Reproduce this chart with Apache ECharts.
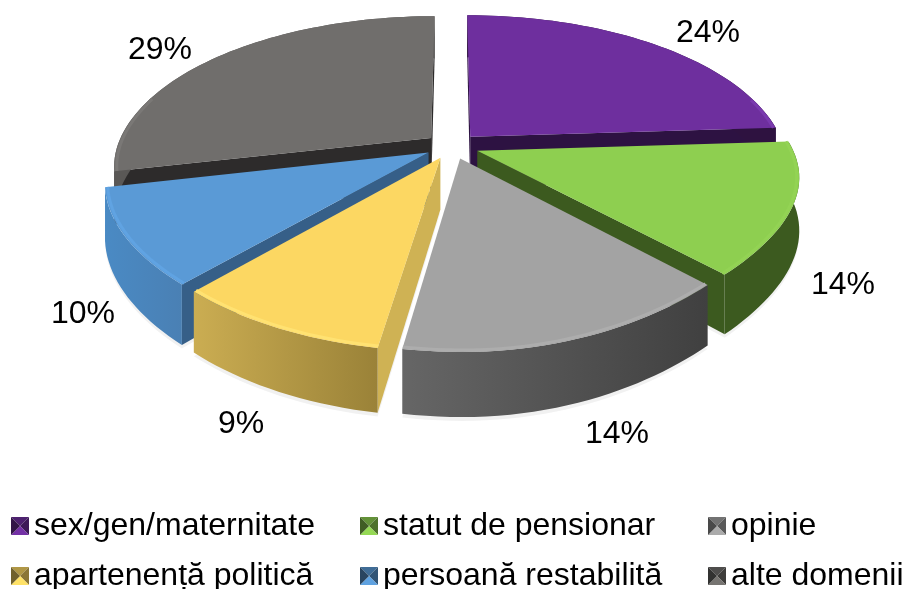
<!DOCTYPE html>
<html>
<head>
<meta charset="utf-8">
<style>
html,body{margin:0;padding:0;background:#fff;overflow:hidden}
#chart{width:905px;height:589px}
</style>
<script src="https://cdn.jsdelivr.net/npm/echarts@6/dist/echarts.min.js"></script>
</head>
<body>
<div id="chart"></div>
<script>
var categories = ['sex/gen/maternitate', 'statut de pensionar', 'opinie', 'apartenență politică', 'persoană restabilită', 'alte domenii'];
// etichetele arata valorile rotunjite, felii estimate din imagine
var values = [24, 14, 14.4, 9.1, 10, 28.5];

// culori: fata de sus, margine, perete, fata taiata
var topColors = ['#6E2F9E', '#8ECF50', '#A3A3A3', '#FCD762', '#5A9AD6', '#706E6C'];
var rimColors = ['#7A3AAE', '#93D354', '#ADADAD', '#FFE272', '#60A3E2', '#7A7876'];
var wallLeft = ['#2E1240', '#3C5A1F', '#666666', '#CBAD52', '#4A8AC4', '#5A5856'];
var wallRight = ['#2E1240', '#3C5A1F', '#404040', '#9A8238', '#4A80B4', '#5A5856'];
var cutColors = ['#2D1242', '#3C5A1F', '#4A4A4A', '#CFB254', '#365F88', '#2D2B2B'];
var paintOrder = [5, 0, 1, 4, 3, 2];
var labelSpots = [[708, 33], [843, 285], [617, 434], [241, 424], [83, 314], [160, 50]];
var legendSpots = [[11, 510], [360, 510], [708, 510], [11, 560], [360, 560], [708, 560]];

var cx = 452, cy = 146, R = 314, tilt = 0.475, camera = 5 * R, drop = 51, explode = 27;

var total = 0;
for (var n = 0; n < values.length; n++) { total += values[n]; }

function sliceAngles(i) {
    var sum = 0;
    for (var k = 0; k < i; k++) { sum += values[k]; }
    return [sum / total * Math.PI * 2, (sum + values[i]) / total * Math.PI * 2];
}

// in fata conturul e mai ascutit decat o elipsa
function rimShape(th) {
    if (th < Math.PI / 2 || th > Math.PI * 1.5) { return 1; }
    var q = Math.sin(2 * th);
    return 1 - (th < Math.PI ? 0.035 : 0.015) * q * q;
}

// punct pe felie: unghi, raza relativa, coborare
function project(i, th, r, h) {
    var a = sliceAngles(i);
    var mid = (a[0] + a[1]) / 2;
    var rr = r * rimShape(th);
    var X = explode * Math.sin(mid) + rr * R * Math.sin(th);
    var Z = -explode * Math.cos(mid) - rr * R * Math.cos(th);
    var s = camera / (camera - Z);
    return [cx + X * s, cy + (tilt * Z + h) * s];
}

function arcPoints(i, r, h, reverse) {
    var a = sliceAngles(i);
    var steps = Math.max(8, Math.round((a[1] - a[0]) / 0.03));
    var pts = [];
    for (var k = 0; k <= steps; k++) {
        pts.push(project(i, a[0] + (a[1] - a[0]) * k / steps, r, h));
    }
    return reverse ? pts.reverse() : pts;
}

function signedArea(p) {
    var sum = 0;
    for (var k = 0; k < p.length; k++) {
        var q = p[(k + 1) % p.length];
        sum += p[k][0] * q[1] - q[0] * p[k][1];
    }
    return sum;
}

// doar partea din fata a marginii are tesitura
function rimPoints(i) {
    var a = sliceAngles(i);
    var from = Math.max(a[0], 1.3), to = Math.min(a[1], 5.0);
    var pts = [];
    if (to <= from) { return pts; }
    var steps = Math.round((to - from) / 0.03) + 2;
    for (var k = 0; k <= steps; k++) {
        pts.push(project(i, from + (to - from) * k / steps, 0.992, 0));
    }
    return pts;
}

function renderSlice(i) {
    return function () {
        var a = sliceAngles(i);
        var children = [];
        var apexTop = project(i, a[0], 0, 0);
        var apexBot = project(i, a[0], 0, drop);
        var startFace = [apexTop, project(i, a[0], 1, 0), project(i, a[0], 1, drop), apexBot];
        var endFace = [apexTop, project(i, a[1], 1, 0), project(i, a[1], 1, drop), apexBot];
        if (signedArea(startFace) < 0) {
            children.push({type: 'polygon', shape: {points: startFace}, style: {fill: cutColors[i]}});
        }
        if (signedArea(endFace) > 0) {
            children.push({type: 'polygon', shape: {points: endFace}, style: {fill: cutColors[i]}});
        }
        children.push({
            type: 'polygon',
            shape: {points: arcPoints(i, 1, 0).concat(arcPoints(i, 1, drop, true))},
            style: {
                fill: new echarts.graphic.LinearGradient(0, 0, 1, 0, [
                    {offset: 0, color: wallLeft[i]},
                    {offset: 1, color: wallRight[i]}
                ])
            }
        });
        children.push({
            type: 'polygon',
            shape: {points: [apexTop].concat(arcPoints(i, 1, 0))},
            style: {fill: topColors[i]}
        });
        var rim = rimPoints(i);
        if (rim.length) {
            children.push({
                type: 'polyline',
                shape: {points: rim},
                style: {stroke: rimColors[i], lineWidth: 3, fill: null}
            });
        }
        children.push({
            type: 'text',
            style: {
                text: Math.round(values[i]) + '%',
                x: labelSpots[i][0],
                y: labelSpots[i][1],
                fill: '#000',
                font: '32px "Liberation Sans"',
                align: 'center',
                verticalAlign: 'middle'
            }
        });
        return {type: 'group', children: children};
    };
}

function renderShadow(params, api) {
    var i = params.dataIndex;
    return {
        type: 'polygon',
        shape: {points: [project(i, sliceAngles(i)[0], 0, drop + 3)].concat(arcPoints(i, 1.0, drop + 3))},
        style: {fill: 'rgba(0,0,0,0.05)', shadowBlur: 14, shadowColor: 'rgba(0,0,0,0.16)'}
    };
}

function shade(hex, f) {
    var c = parseInt(hex.slice(1), 16);
    var r = Math.min(255, Math.round((c >> 16 & 255) * f));
    var g = Math.min(255, Math.round((c >> 8 & 255) * f));
    var b = Math.min(255, Math.round((c & 255) * f));
    return 'rgb(' + r + ',' + g + ',' + b + ')';
}

// patratel tesit pentru legenda
function swatch(hex) {
    var cv = document.createElement('canvas');
    cv.width = 18;
    cv.height = 18;
    var g = cv.getContext('2d');
    var sides = [
        [[0, 0], [18, 0], 0.7],
        [[18, 0], [18, 18], 0.55],
        [[18, 18], [0, 18], 1.05],
        [[0, 18], [0, 0], 0.45]
    ];
    for (var k = 0; k < sides.length; k++) {
        g.fillStyle = shade(hex, sides[k][2]);
        g.beginPath();
        g.moveTo(sides[k][0][0], sides[k][0][1]);
        g.lineTo(sides[k][1][0], sides[k][1][1]);
        g.lineTo(9, 9);
        g.closePath();
        g.fill();
    }
    return 'image://' + cv.toDataURL();
}

var series = [{
    type: 'custom',
    coordinateSystem: 'none',
    name: 'umbra',
    z: 1,
    silent: true,
    renderItem: renderShadow,
    data: values
}];
var legends = [];
for (var j = 0; j < categories.length; j++) {
    series.push({
        type: 'custom',
        coordinateSystem: 'none',
        name: categories[j],
        z: 2 + paintOrder.indexOf(j),
        silent: true,
        itemStyle: {color: topColors[j]},
        renderItem: renderSlice(j),
        data: [values[j]]
    });
    legends.push({
        left: legendSpots[j][0],
        top: legendSpots[j][1],
        itemWidth: 18,
        itemHeight: 18,
        selectedMode: false,
        padding: 0,
        textStyle: {fontFamily: 'Liberation Sans', fontSize: 32, color: '#000'},
        data: [{name: categories[j], icon: swatch(topColors[j])}]
    });
}

var myChart = echarts.init(document.getElementById('chart'));
myChart.setOption({
    animation: false,
    backgroundColor: '#fff',
    legend: legends,
    series: series
});
</script>
</body>
</html>
